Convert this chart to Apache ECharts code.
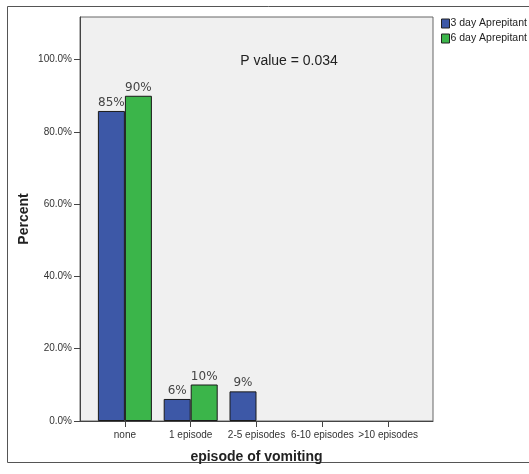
<!DOCTYPE html>
<html>
<head>
<meta charset="utf-8">
<script src="https://cdn.jsdelivr.net/npm/echarts@6/dist/echarts.min.js"></script>
<style>html,body{margin:0;padding:0;background:#fff;}#c{width:529px;height:474px;}</style>
</head>
<body>
<div id="c"></div>
<script>
var categories = ['none', '1 episode', '2-5 episodes', '6-10 episodes', '>10 episodes'];
var seriesNames = ['3 day Aprepitant', '6 day Aprepitant'];
var values3day = [85.8, 6.1, 8.2, null, null];
var values6day = [90.0, 10.1, null, null, null];
var labels3day = ['85%', '6%', '9%', '', ''];
var labels6day = ['90%', '10%', '', '', ''];
var yTicks = [0, 20, 40, 60, 80, 100];
var pText = 'P value = 0.034';

var FONT = 'Liberation Sans, Arial, sans-serif';
var chart = echarts.init(document.getElementById('c'), null, {renderer: 'canvas'});
var yMax = 111.8;
function lbl(arr) {
  return function (p) { return arr[p.dataIndex]; };
}
chart.setOption({
  animation: false,
  backgroundColor: '#fff',
  textStyle: {fontFamily: FONT},
  grid: [
    {left: 80, top: 17, width: 353, height: 404, show: true, backgroundColor: '#f0f0f0', borderColor: '#666', borderWidth: 1, containLabel: false},
    {left: 92, top: 17, width: 329, height: 404, containLabel: false}
  ],
  xAxis: [
    {gridIndex: 0, type: 'value', min: 0, max: 1, axisLine: {show: true, lineStyle: {color: '#444', width: 1}}, axisTick: {show: false}, axisLabel: {show: false}, splitLine: {show: false}},
    {gridIndex: 1, type: 'category', data: categories,
     axisLine: {show: false},
     axisTick: {show: true, alignWithLabel: true, length: 6, lineStyle: {color: '#444'}},
     axisLabel: {color: '#333', fontSize: 10, margin: 9, fontFamily: FONT, interval: 0},
     name: 'episode of vomiting', nameLocation: 'middle', nameGap: 29,
     nameTextStyle: {fontSize: 14, fontWeight: 'bold', color: '#222', fontFamily: FONT}}
  ],
  yAxis: [
    {gridIndex: 0, type: 'value', min: 0, max: yMax,
     axisLine: {show: true, lineStyle: {color: '#444', width: 1}},
     axisTick: {show: true, length: 6, inside: false, customValues: yTicks, lineStyle: {color: '#444'}},
     axisLabel: {customValues: yTicks, color: '#333', fontSize: 10, margin: 8, fontFamily: FONT, formatter: function (v) { return v.toFixed(1) + '%'; }},
     splitLine: {show: false},
     name: 'Percent', nameLocation: 'middle', nameGap: 49, nameRotate: 90, nameMoveOverlap: false,
     nameTextStyle: {fontSize: 14, fontWeight: 'bold', color: '#222', fontFamily: FONT}},
    {gridIndex: 1, type: 'value', min: 0, max: yMax, show: false, splitLine: {show: false}}
  ],
  legend: {
    orient: 'vertical', left: 441, top: 18, padding: 0, itemWidth: 8, itemHeight: 9, itemGap: 4,
    icon: 'rect',
    textStyle: {fontSize: 10.5, color: '#222', fontFamily: FONT, padding: [0, 0, 0, -4]},
    itemStyle: {borderColor: '#222', borderWidth: 1},
    data: seriesNames
  },
  series: [
    {name: seriesNames[0], type: 'bar', xAxisIndex: 1, yAxisIndex: 1, data: values3day, barWidth: 27, barGap: '0%',
     itemStyle: {color: '#3d58a7', borderColor: '#1a1a1a', borderWidth: 1},
     label: {show: true, position: 'top', distance: 2, formatter: lbl(labels3day), fontSize: 12, color: '#444', fontFamily: 'DejaVu Sans, sans-serif'}},
    {name: seriesNames[1], type: 'bar', xAxisIndex: 1, yAxisIndex: 1, data: values6day, barWidth: 27, barGap: '0%',
     itemStyle: {color: '#3bb54a', borderColor: '#1a1a1a', borderWidth: 1},
     label: {show: true, position: 'top', distance: 2, formatter: lbl(labels6day), fontSize: 12, color: '#444', fontFamily: 'DejaVu Sans, sans-serif'}}
  ],
  graphic: [
    {type: 'rect', shape: {x: 7.5, y: 6.5, width: 540, height: 456}, style: {fill: 'none', stroke: '#555', lineWidth: 1}, silent: true},
    {type: 'text', x: 289, y: 61, style: {text: pText, fontSize: 14, fill: '#222', fontFamily: FONT, align: 'center', verticalAlign: 'middle'}, z: 10}
  ]
});
</script>
</body>
</html>
